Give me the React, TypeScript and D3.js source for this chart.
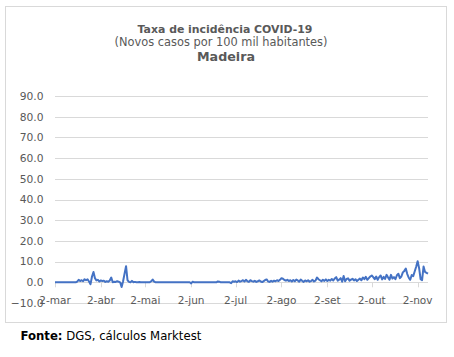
import React from "react";
import * as d3 from "d3";

const title = "Taxa de incidência COVID-19";
const subtitle = "(Novos casos por 100 mil habitantes)";
const region = "Madeira";
const sourceBold = "Fonte:";
const sourceText = " DGS, cálculos Marktest";

const yTicks = [-10, 0, 10, 20, 30, 40, 50, 60, 70, 80, 90];
const xTickLabels = ["2-mar", "2-abr", "2-mai", "2-jun", "2-jul", "2-ago", "2-set", "2-out", "2-nov"];

// daily values, 2 Mar 2020 .. 9 Nov 2020
const marValues = [0, 0, 0, 0, 0, 0, 0, 0, 0, 0, 0, 0, 0, 0, 0, 0.3, 1.2, 0.6, 1.0, 0.5, 1.5, 1.0, 1.4, 0.4, -0.9, 2.8, 5.0, 2.0, 0.9, 1.2];
const abrValues = [0.4, 0.9, 0.6, 0.8, 0.2, 0.5, 0.3, 0.9, 2.3, 0.0, 0.3, 0.2, 0.5, 0.3, 0.0, -2.3, 0.5, 4.2, 7.8, 1.0, 0.2, 0.0, 0.7, 0.0, 0.2, 0.0, 0.0, 0.1, 0.0, 0.0];
const maiValues = [0, 0, 0, 0, 0, 0.5, 1.3, 0.3, 0, 0, 0, 0, 0, 0, 0, 0, 0, 0, 0, 0, 0, 0, 0, 0, 0, 0, 0, 0, 0, 0, 0];
const junValues = [0, -0.5, 0.3, 0, 0, 0, 0, 0, 0, 0, 0, 0, 0, 0, 0, 0, 0, 0, 0, 0.4, 0.3, 0, 0, 0, 0, 0, 0, 0, -0.4, 0.5];
const julValues = [0.3, 0.5, 0.1, 0.8, 0.3, 0.6, 1.0, 0.4, 1.2, 0.5, 0.2, 1.0, 0.6, 0.3, 0.7, 0.2, 0.5, 0.9, 0.4, 0.1, 0.6, 1.1, 1.4, 0.4, 0.2, 0.7, 0.3, 0.8, 0.5, 1.0, 0.6];
const agoValues = [1.2, 2.0, 1.7, 1.1, 0.8, 1.2, 0.6, 1.0, 0.4, 1.1, 0.5, 1.3, 0.9, 0.3, 1.3, 0.7, 0.2, 0.9, 0.5, 1.0, 0.3, 0.6, 1.2, 0.4, 0.8, 2.3, 1.5, 1.0, 0.5, 1.2, 0.7];
const setValues = [1.4, 0.6, 1.2, 0.8, 1.6, 0.9, 1.8, 2.5, 0.8, 1.3, 2.0, 0.3, 3.0, 0.5, 1.6, 1.9, 0.8, 1.3, 1.7, 0.9, 1.5, 0.6, 1.2, 1.8, 1.0, 2.3, 1.5, 2.6, 1.2, 2.0];
const outValues = [2.8, 3.3, 2.5, 1.5, 2.8, 1.2, 2.5, 3.3, 1.4, 2.6, 1.6, 3.6, 2.4, 1.3, 3.6, 1.8, 2.5, 1.5, 3.4, 4.1, 2.0, 2.8, 4.8, 5.5, 6.6, 4.0, 2.2, 1.2, 3.5, 3.0, 5.2];
const novValues = [7.5, 10.2, 6.8, 1.5, 1.0, 7.6, 5.0, 4.6, 4.2];

const allValues = [
  ...marValues, ...abrValues, ...maiValues, ...junValues, ...julValues,
  ...agoValues, ...setValues, ...outValues, ...novValues,
];
const startDate = new Date(2020, 2, 2);
const data = allValues.map((v, i) => ({ date: d3.timeDay.offset(startDate, i), value: v }));
const tickDates = xTickLabels.map((_, i) => new Date(2020, 2 + i, 2));

const W = 454;
const H = 357;
const left = 55;
const right = 428;
const top = 96;
const bottom = 303;

const textColor = "#595959";
const gridColor = "#d9d9d9";
const font = "'DejaVu Sans', sans-serif";

export default function App() {
  const x = d3.scaleTime().domain([data[0].date, data[data.length - 1].date]).range([left, right]);
  const y = d3.scaleLinear().domain([-10, 90]).range([bottom, top]);
  const line = d3
    .line<{ date: Date; value: number }>()
    .x((d) => x(d.date))
    .y((d) => y(d.value));
  const fmt = d3.format(".1f");
  const y0 = y(0);

  return (
    <svg
      width={W}
      height={H}
      style={{ position: "fixed", left: 0, top: 0, background: "#fff" }}
      fontFamily={font}
    >
      <rect x={0} y={0} width={W} height={H} fill="#fff" />
      <rect x={5.5} y={6.5} width={441} height={316} fill="#fff" stroke={gridColor} strokeWidth={1} />
      <text x={225} y={33} textAnchor="middle" fontSize={10.9} fontWeight="bold" fill={textColor}>
        {title}
      </text>
      <text x={221} y={46} textAnchor="middle" fontSize={11.4} fill={textColor}>
        {subtitle}
      </text>
      <text x={226} y={60.5} textAnchor="middle" fontSize={12.7} fontWeight="bold" fill={textColor}>
        {region}
      </text>
      {yTicks.map((t) => (
        <g key={t}>
          <line x1={left} x2={right} y1={Math.round(y(t)) + 0.5} y2={Math.round(y(t)) + 0.5} stroke={gridColor} />
          <text x={43.5} y={y(t)} dy="0.36em" textAnchor="end" fontSize={10.7} fill={textColor}>
            {fmt(t)}
          </text>
        </g>
      ))}
      <line x1={left} x2={right} y1={Math.round(y0) + 0.5} y2={Math.round(y0) + 0.5} stroke={gridColor} />
      {tickDates.map((d, i) => (
        <g key={i}>
          <line
            x1={Math.round(x(d)) + 0.5}
            x2={Math.round(x(d)) + 0.5}
            y1={y0}
            y2={y0 + 5}
            stroke={gridColor}
          />
          <text x={x(d)} y={y0 + 21.5} textAnchor="middle" fontSize={10.5} fill={textColor}>
            {xTickLabels[i]}
          </text>
        </g>
      ))}
      <path d={line(data) || ""} fill="none" stroke="#4472C4" strokeWidth={2} strokeLinejoin="round" />
      <text x={20.5} y={340} fontSize={11.7} fill="#000">
        <tspan fontWeight="bold">{sourceBold}</tspan>
        <tspan>{sourceText}</tspan>
      </text>
    </svg>
  );
}
